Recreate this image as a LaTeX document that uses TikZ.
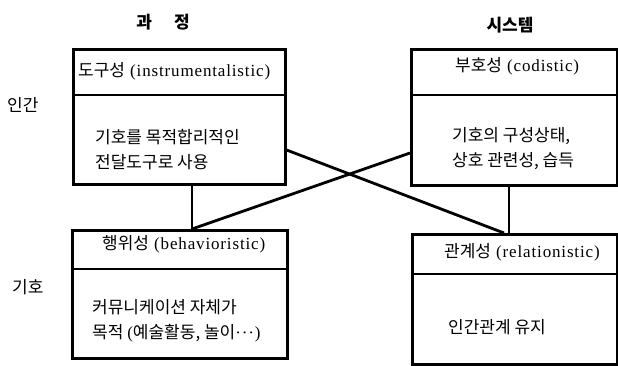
\documentclass[tikz,border=0pt]{standalone}
\usepackage{fontspec}
\setmainfont{Liberation Serif}[LetterSpace=5]
\newfontfamily\kr{Noto Sans CJK KR}
\newcommand\kt[1]{{\kr #1}}
\begin{document}
\begin{tikzpicture}[x=1pt,y=-1pt,
  frame/.style={draw, line width=2.6pt, rectangle, anchor=north west, inner sep=0pt},
  rule/.style={line width=2.2pt},
  link/.style={line width=2.8pt},
  head/.style={anchor=west, inner sep=0pt, font=\fontsize{17}{19}\selectfont},
  body/.style={anchor=west, inner sep=0pt, align=left, font=\kr\fontsize{17}{25}\selectfont},
  title/.style={inner sep=0pt, font=\kr\bfseries\fontsize{17}{19}\selectfont},
  side/.style={anchor=west, inner sep=0pt, font=\kr\fontsize{17}{19}\selectfont}]
\useasboundingbox (0,0) rectangle (618,365);

% column and row labels
\node[title] (colA) at (163,22) {과\hspace{1.3em}정};
\node[title] (colB) at (510,25) {시스템};
\node[side] (rowA) at (7,105) {인간};
\node[side] (rowB) at (12,287) {기호};

% the four boxes
\node[frame, minimum width=212pt, minimum height=135pt] (tl) at (72,48) {};
\node[frame, minimum width=206pt, minimum height=136pt] (tr) at (410,48) {};
\node[frame, minimum width=215pt, minimum height=128pt] (bl) at (71,229) {};
\node[frame, minimum width=205pt, minimum height=130pt] (br) at (411,233) {};

% header dividers
\draw[rule] (tl.north west) ++(0,47) -- ++(212,0);
\draw[rule] (tr.north west) ++(0,47) -- ++(206,0);
\draw[rule] (bl.north west) ++(0,40) -- ++(215,0);
\draw[rule] (br.north west) ++(0,41) -- ++(205,0);

% headers
\node[head] (tlh) at (78,71) {\kt{도구성} (instrumentalistic)};
\node[head] (trh) at (455,66) {\kt{부호성} (codistic)};
\node[head] (blh) at (102,244) {\kt{행위성} (behavioristic)};
\node[head] (brh) at (444,252) {\kt{관계성} (relationistic)};

% bodies
\node[body] (tlb) at (95,149.5) {기호를 목적합리적인\\전달도구로 사용};
\node[body] (trb) at (452,148.5) {기호의 구성상태,\\상호 관련성, 습득};
\node[body] (blb) at (92,320.5) {커뮤니케이션 자체가\\목적 {\rmfamily(}예술활동, 놀이{\rmfamily···)}};
\node[body] (brb) at (448,327) {인간관계 유지};

% connectors
\coordinate (xl) at (192,0);
\coordinate (xr) at (509,0);
\coordinate (xe) at (504,0);
\coordinate (ya) at (0,150);
\coordinate (yb) at (0,153);
\draw[link] (tl.south -| xl) -- (bl.north -| xl);
\draw[link] (tr.south -| xr) -- (br.north -| xr);
\draw[link] (tl.east |- ya) -- (br.north -| xe);
\draw[link] (bl.north -| xl) -- (tr.west |- yb);
\end{tikzpicture}
\end{document}
